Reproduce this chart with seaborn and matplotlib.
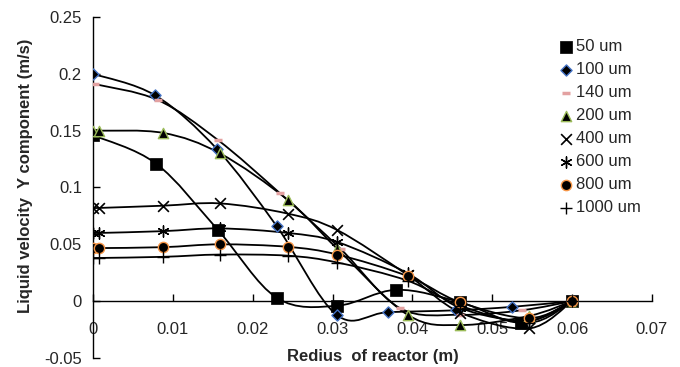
import numpy as np
import pandas as pd
import matplotlib
matplotlib.use("Agg")
import matplotlib.pyplot as plt
from matplotlib.path import Path
from matplotlib.patches import PathPatch
import seaborn as sns

# ---------------- data ----------------
labels = ["50 um", "100 um", "140 um", "200 um", "400 um", "600 um", "800 um", "1000 um"]

x_50 = [0.0, 0.0079, 0.0156, 0.0230, 0.0306, 0.0380, 0.0460, 0.0536, 0.060]
y_50 = [0.146, 0.121, 0.063, 0.003, -0.004, 0.010, -0.001, -0.019, 0.0]

x_100 = [0.0, 0.0078, 0.0155, 0.0230, 0.0305, 0.0369, 0.0455, 0.0525, 0.060]
y_100 = [0.200, 0.181, 0.134, 0.066, -0.012, -0.0097, -0.008, -0.005, 0.0]

x_140 = [0.0002, 0.0081, 0.0156, 0.0234, 0.0310, 0.0384, 0.0460, 0.0537, 0.060]
y_140 = [0.191, 0.177, 0.142, 0.095, 0.046, -0.006, -0.012, -0.008, 0.0]

x_grid = [0.0, 0.0007, 0.0088, 0.0159, 0.0244, 0.0306, 0.0394, 0.0460, 0.0546, 0.060]
y_200 = [0.150, 0.150, 0.148, 0.130, 0.089, 0.046, -0.012, -0.021, -0.013, 0.0]
y_400 = [0.082, 0.082, 0.084, 0.086, 0.077, 0.0625, 0.023, -0.010, -0.024, 0.0]
y_600 = [0.060, 0.060, 0.0616, 0.064, 0.060, 0.052, 0.0245, -0.006, -0.017, 0.0]
y_800 = [0.0467, 0.0467, 0.0475, 0.050, 0.0478, 0.041, 0.022, -0.001, -0.015, 0.0]
y_1000 = [0.038, 0.038, 0.039, 0.041, 0.040, 0.034, 0.018, -0.004, -0.019, 0.0]

xs = [x_50, x_100, x_140, x_grid, x_grid, x_grid, x_grid, x_grid]
ys = [y_50, y_100, y_140, y_200, y_400, y_600, y_800, y_1000]

x_ticks = [0, 0.01, 0.02, 0.03, 0.04, 0.05, 0.06, 0.07]
x_ticklabels = ["0", "0.01", "0.02", "0.03", "0.04", "0.05", "0.06", "0.07"]
y_ticks = [-0.05, 0, 0.05, 0.1, 0.15, 0.2, 0.25]
y_ticklabels = ["-0.05", "0", "0.05", "0.1", "0.15", "0.2", "0.25"]

# ---------------- styles ----------------
styles = [
    dict(marker="s", fc="black", ec="black", s=65, lw=0.5),
    dict(marker="D", fc="black", ec="#4472C4", s=32, lw=1.0),
    dict(marker="_", fc="#E3A1A1", ec="#E3A1A1", s=40, lw=2.5),
    dict(marker="^", fc="black", ec="#9BBB59", s=55, lw=1.0),
    dict(marker="x", fc="black", ec="black", s=60, lw=1.2),
    dict(marker=(6, 2, 0), fc="black", ec="black", s=65, lw=1.0),
    dict(marker="o", fc="black", ec="#F79646", s=55, lw=1.0),
    dict(marker="+", fc="black", ec="black", s=75, lw=1.0),
]

FS = 12

sns.set_theme(style="white")
plt.rcParams["font.family"] = ["Liberation Sans", "DejaVu Sans"]

fig = plt.figure(figsize=(6.8, 3.67), dpi=100)
ax = fig.add_axes([93 / 680, 1 - 358 / 367, (652 - 93) / 680, (358 - 17) / 367])


def smooth_path(x, y):
    p = np.column_stack([x, y]).astype(float)
    n = len(p)
    verts = [p[0]]
    codes = [Path.MOVETO]
    for i in range(n - 1):
        p0 = p[i - 1] if i > 0 else p[i]
        p1 = p[i]
        p2 = p[i + 1]
        p3 = p[i + 2] if i + 2 < n else p[i + 1]
        c1 = p1 + (p2 - p0) / 6.0
        c2 = p2 - (p3 - p1) / 6.0
        verts += [c1, c2, p2]
        codes += [Path.CURVE4] * 3
    return Path(verts, codes)


for x, y in zip(xs, ys):
    ax.add_patch(PathPatch(smooth_path(x, y), fill=False, ec="black", lw=1.3, zorder=2))

for lab, x, y, st in zip(labels, xs, ys, styles):
    df = pd.DataFrame({"x": x, "y": y})
    unfilled = st["marker"] in ("x", "+", "_") or isinstance(st["marker"], tuple)
    if unfilled:
        sns.scatterplot(data=df, x="x", y="y", marker=st["marker"], color=st["ec"],
                        s=st["s"], linewidth=st["lw"], ax=ax, label=lab, zorder=3)
    else:
        sns.scatterplot(data=df, x="x", y="y", marker=st["marker"], color=st["fc"],
                        edgecolor=st["ec"], s=st["s"], linewidth=st["lw"], ax=ax,
                        label=lab, zorder=3)

ax.set_xlim(0, 0.07)
ax.set_ylim(-0.05, 0.25)
ax.set_xticks(x_ticks)
ax.set_xticklabels(x_ticklabels)
ax.set_yticks(y_ticks)
ax.set_yticklabels(y_ticklabels)

for s in ["top", "right"]:
    ax.spines[s].set_visible(False)
ax.spines["bottom"].set_position(("data", 0))
for s in ["left", "bottom"]:
    ax.spines[s].set_color("black")
    ax.spines[s].set_linewidth(1.0)
ax.tick_params(axis="x", direction="in", length=5, width=1, color="black",
               labelsize=FS, pad=15, bottom=True)
ax.tick_params(axis="y", direction="in", length=5, width=1, color="black",
               labelsize=FS, pad=8, left=True)
ax.grid(False)
ax.set_facecolor("white")

ax.set_xlabel("Redius  of reactor (m)", fontsize=FS, fontweight="bold")
ax.xaxis.label.set_va("center")
ax.xaxis.set_label_coords(0.5, (358 - 356) / 341)
ax.set_ylabel("Liquid velocity  Y component (m/s)", fontsize=FS, fontweight="bold")
ax.yaxis.set_label_coords(-0.108, 0.535)

leg = ax.legend(loc="upper left", bbox_to_anchor=(0.82, 0.955), frameon=False,
                fontsize=FS, handletextpad=0.05, labelspacing=0.48, handlelength=1.0,
                borderaxespad=0)

fig.savefig("out.png", dpi=100, facecolor="white")
